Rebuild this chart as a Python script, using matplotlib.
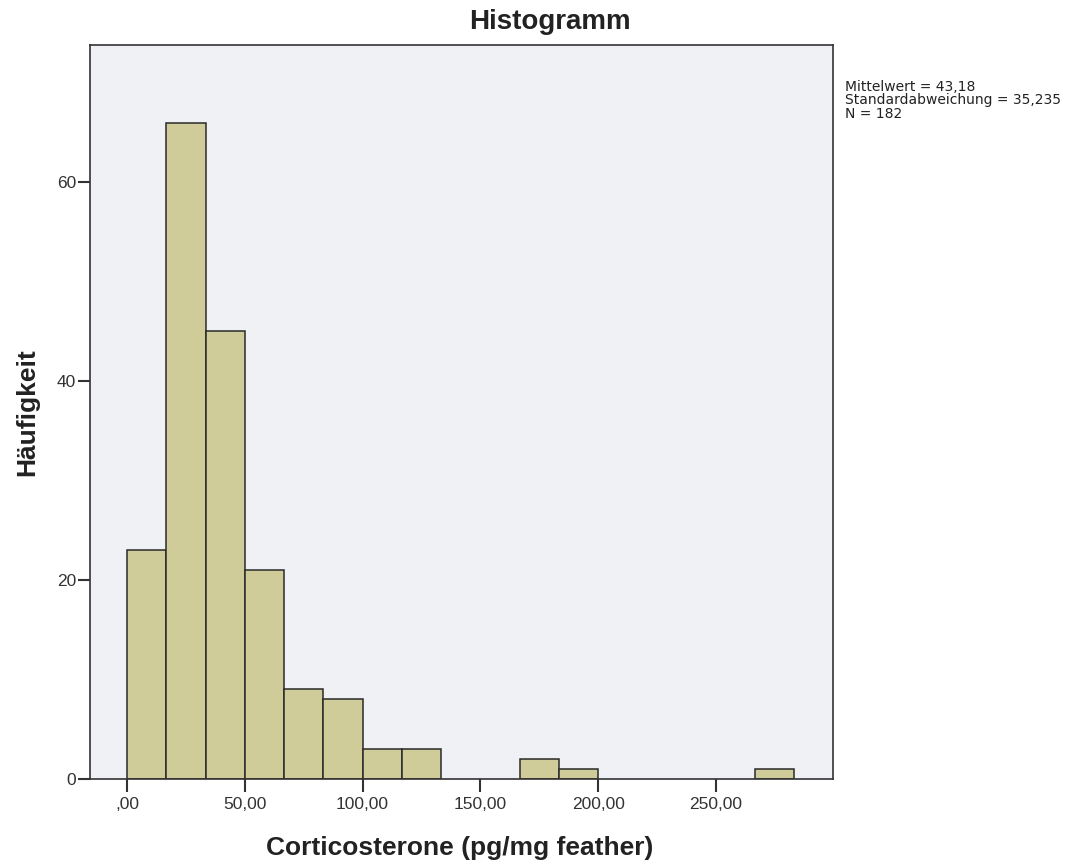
import matplotlib
matplotlib.use("Agg")
import matplotlib.pyplot as plt
import numpy as np

# Data
bin_width = 300 / 18
counts = [23, 66, 45, 21, 9, 8, 3, 3, 0, 0, 2, 1, 0, 0, 0, 0, 1]
x_ticks = [0, 50, 100, 150, 200, 250]
x_ticklabels = [",00", "50,00", "100,00", "150,00", "200,00", "250,00"]
y_ticks = [0, 20, 40, 60]
y_ticklabels = ["0", "20", "40", "60"]
title = "Histogramm"
xlabel = "Corticosterone (pg/mg feather)"
ylabel = "Häufigkeit"
stats_text = "Mittelwert = 43,18\nStandardabweichung = 35,235\nN = 182"

plt.rcParams["font.family"] = ["Liberation Sans", "DejaVu Sans"]

W, H = 1072, 866
fig = plt.figure(figsize=(W/100, H/100), dpi=100)
ax = fig.add_axes([90/W, 1-779/H, (833-90)/W, (779-45)/H])
ax.set_facecolor("#F0F1F4")

lefts = np.arange(len(counts)) * bin_width
for l, c in zip(lefts, counts):
    if c > 0:
        ax.bar(l, c, width=bin_width, align="edge", color="#D0CC99",
               edgecolor="#2a2a2a", linewidth=1.1, zorder=2)

ax.set_xlim(-15.7, 299.7)
ax.set_ylim(0, 73.8)
ax.set_xticks(x_ticks)
ax.set_xticklabels(x_ticklabels, fontsize=12.5, color="#333333")
ax.set_yticks(y_ticks)
ax.set_yticklabels(y_ticklabels, fontsize=12.5, color="#333333")
ax.tick_params(axis="x", length=9, width=1.5, color="#333333", pad=4)
ax.tick_params(axis="y", length=9, width=1.5, color="#333333", pad=1)
for s in ax.spines.values():
    s.set_color("#333333")
    s.set_linewidth(1.2)

fig.text(550/W, 1-22/H, title, fontsize=20, fontweight="bold", color="#222222",
         ha="center", va="center")
fig.text(460/W, 1-848/H, xlabel, fontsize=19, fontweight="bold", color="#222222",
         ha="center", va="center")
fig.text(27/W, 1-412/H, ylabel, fontsize=19, fontweight="bold", color="#222222",
         ha="center", va="center", rotation=90)

fig.text(845/W, 1-80/H, stats_text, fontsize=10, va="top", ha="left",
         color="#222222", linespacing=0.95,
         family=["Liberation Sans Narrow", "DejaVu Sans Condensed", "DejaVu Sans"])

fig.savefig("out.png", dpi=100)
